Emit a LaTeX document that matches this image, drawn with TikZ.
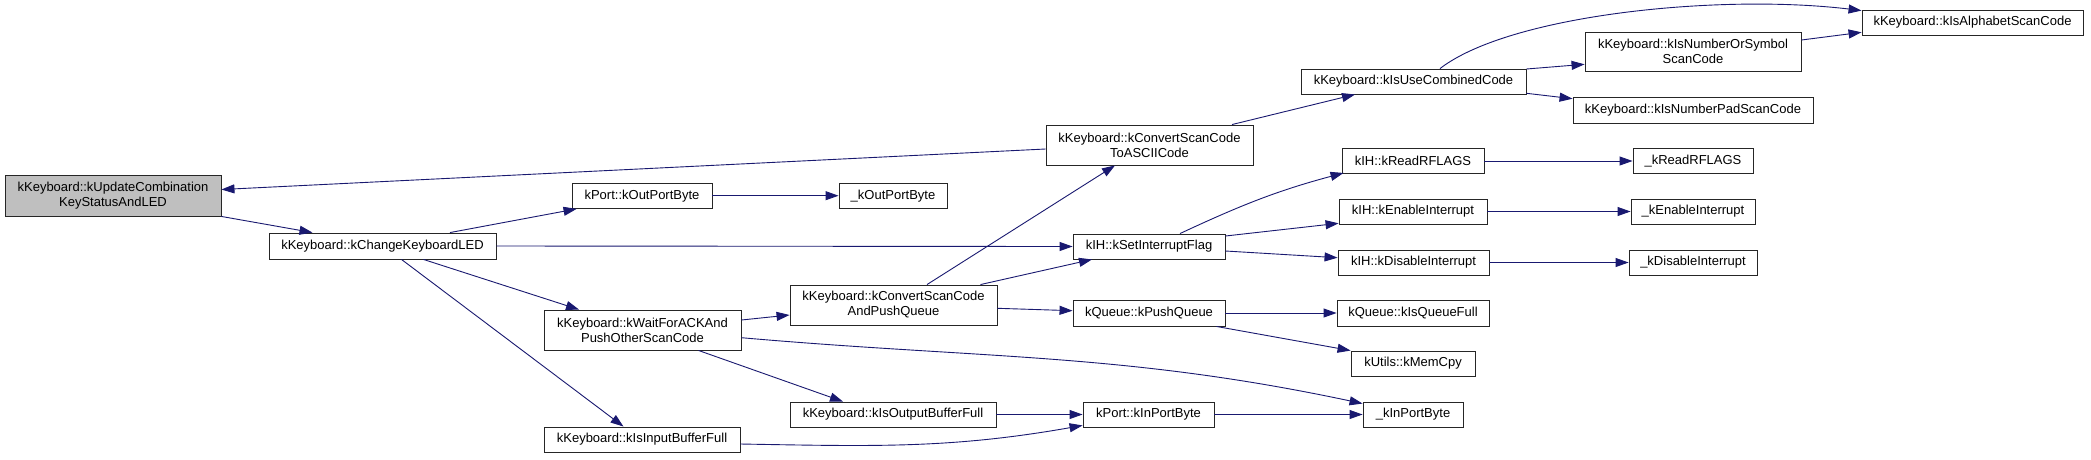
\documentclass[tikz,border=0pt]{standalone}
\usepackage{fontspec}
\setmainfont{Liberation Sans}
\usetikzlibrary{arrows.meta}
\definecolor{edgeblue}{HTML}{191970}
\definecolor{rootgray}{HTML}{BFBFBF}
\tikzset{
  box/.style={draw=black!85, line width=0.9pt, fill=white, inner sep=0pt, align=center,
    font=\fontsize{13}{15}\selectfont},
  e/.style={draw=edgeblue, line width=0.9pt, -{Triangle[length=13pt,width=9pt]}, color=edgeblue},
}
\begin{document}
\begin{tikzpicture}[x=1pt,y=-1pt]
\useasboundingbox[fill=white] (0,0) rectangle (2091,459);
% nodes
\node[box, fill=rootgray, minimum width=216pt, minimum height=41pt] (root) at (113,195.5) {kKeyboard::kUpdateCombination\\KeyStatusAndLED};
\node[box, minimum width=227pt, minimum height=26pt] (led) at (382.5,246) {kKeyboard::kChangeKeyboardLED};
\node[box, minimum width=140pt, minimum height=25.5pt] (outport) at (642,195.7) {kPort::kOutPortByte};
\node[box, minimum width=108pt, minimum height=25.5pt] (uoutport) at (893,195.7) {\_kOutPortByte};
\node[box, minimum width=197pt, minimum height=40pt] (waitack) at (642.5,330) {kKeyboard::kWaitForACKAnd\\PushOtherScanCode};
\node[box, minimum width=196pt, minimum height=25pt] (inbuf) at (642,439.5) {kKeyboard::kIsInputBufferFull};
\node[box, minimum width=207pt, minimum height=40pt] (cvtpush) at (893.5,305) {kKeyboard::kConvertScanCode\\AndPushQueue};
\node[box, minimum width=206pt, minimum height=25pt] (outbuf) at (893,414.5) {kKeyboard::kIsOutputBufferFull};
\node[box, minimum width=207pt, minimum height=40pt] (cvtascii) at (1149.5,145) {kKeyboard::kConvertScanCode\\ToASCIICode};
\node[box, minimum width=152pt, minimum height=25pt] (setif) at (1149,246.5) {kIH::kSetInterruptFlag};
\node[box, minimum width=152pt, minimum height=26pt] (pushq) at (1149,313) {kQueue::kPushQueue};
\node[box, minimum width=131pt, minimum height=25pt] (inport) at (1148.5,414.5) {kPort::kInPortByte};
\node[box, minimum width=225pt, minimum height=25pt] (usecomb) at (1413.5,81.5) {kKeyboard::kIsUseCombinedCode};
\node[box, minimum width=142pt, minimum height=25pt] (readrf) at (1413,161) {kIH::kReadRFLAGS};
\node[box, minimum width=148pt, minimum height=25pt] (enint) at (1413,211.5) {kIH::kEnableInterrupt};
\node[box, minimum width=151pt, minimum height=25pt] (disint) at (1413.5,262.5) {kIH::kDisableInterrupt};
\node[box, minimum width=152pt, minimum height=26pt] (qfull) at (1413,313) {kQueue::kIsQueueFull};
\node[box, minimum width=124pt, minimum height=25pt] (memcpy) at (1413,363.5) {kUtils::kMemCpy};
\node[box, minimum width=100pt, minimum height=25pt] (uinport) at (1413,414.5) {\_kInPortByte};
\node[box, minimum width=216pt, minimum height=39pt] (numsym) at (1693,51.5) {kKeyboard::kIsNumberOrSymbol\\ScanCode};
\node[box, minimum width=240pt, minimum height=26pt] (numpad) at (1693,110) {kKeyboard::kIsNumberPadScanCode};
\node[box, minimum width=221pt, minimum height=25pt] (alpha) at (1972.5,22.5) {kKeyboard::kIsAlphabetScanCode};
\node[box, minimum width=120pt, minimum height=25.5pt] (ureadrf) at (1693,161) {\_kReadRFLAGS};
\node[box, minimum width=124pt, minimum height=25pt] (uenint) at (1693,211.5) {\_kEnableInterrupt};
\node[box, minimum width=128pt, minimum height=25pt] (udisint) at (1693,262.5) {\_kDisableInterrupt};
% edges
\draw[e] ([yshift=-4pt]cvtascii.west) -- ([yshift=6pt]root.east);
\draw[e] (root.south east) -- ([xshift=-70pt]led.north);
\draw[e] ([xshift=67.5pt]led.north) -- ([xshift=5pt]outport.south west);
\draw[e] (led.east) -- (setif.west);
\draw[e] ([xshift=41pt]led.south) -- ([xshift=-63.5pt]waitack.north);
\draw[e] ([xshift=19pt]led.south) -- ([xshift=-18.5pt]inbuf.north);
\draw[e] (outport.east) -- (uoutport.west);
\draw[e] ([yshift=10pt]waitack.east) -- ([yshift=-10pt]cvtpush.west);
\draw[e] ([yshift=-7.7pt]waitack.east) to[out=-5, in=168] ([yshift=-2pt]uinport.north west);
\draw[e] ([xshift=56pt]waitack.south) -- ([xshift=-50pt]outbuf.north);
\draw[e] ([yshift=-4.5pt]inbuf.east) to[out=-1, in=190] ([yshift=2pt]inport.south west);
\draw[e] ([xshift=33.5pt]cvtpush.north) -- ([xshift=-34.5pt]cvtascii.south);
\draw[e] ([xshift=87pt]cvtpush.north) -- ([xshift=-57pt]setif.south);
\draw[e] ([yshift=-3.3pt]cvtpush.east) -- ([yshift=2.3pt]pushq.west);
\draw[e] (outbuf.east) -- (inport.west);
\draw[e] (inport.east) -- (uinport.west);
\draw[e] ([xshift=82.5pt]cvtascii.north) -- ([xshift=-58.5pt]usecomb.south);
\draw[e] ([xshift=31pt]setif.north) to[out=25, in=195] ([xshift=2pt,yshift=1pt]readrf.south west);
\draw[e] ([yshift=10.5pt]setif.east) -- ([yshift=-11.8pt]enint.west);
\draw[e] ([yshift=-4.5pt]setif.east) -- ([yshift=4.8pt]disint.west);
\draw[e] (pushq.east) -- (qfull.west);
\draw[e] ([xshift=-9pt]pushq.south east) -- (memcpy.north west);
\draw[e] ([xshift=26.5pt]usecomb.north) .. controls +(70,-54) and +(-142,-17) .. ([yshift=-1pt]alpha.north west);
\draw[e] ([yshift=12.5pt]usecomb.east) -- ([yshift=-12.8pt]numsym.west);
\draw[e] ([yshift=-11.8pt]usecomb.east) -- ([yshift=11.3pt]numpad.west);
\draw[e] ([yshift=11.5pt]numsym.east) -- ([yshift=-9.8pt]alpha.west);
\draw[e] (readrf.east) -- (ureadrf.west);
\draw[e] (enint.east) -- (uenint.west);
\draw[e] (disint.east) -- (udisint.west);
\end{tikzpicture}
\end{document}
